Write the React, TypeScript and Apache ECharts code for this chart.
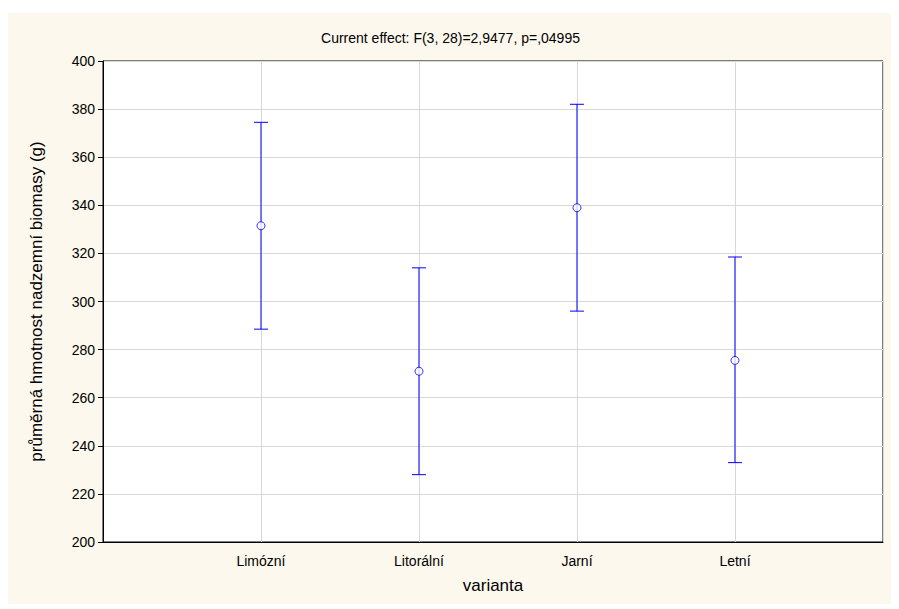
import React, { useEffect, useRef } from "react";
import * as echarts from "echarts";

const categories = ["Limózní", "Litorální", "Jarní", "Letní"];
const means = [331.5, 271, 339, 275.5];
const lower = [288.5, 228, 296, 233];
const upper = [374.5, 314, 382, 318.5];

export default function App() {
  const ref = useRef<HTMLDivElement>(null);
  useEffect(() => {
    const chart = echarts.init(ref.current!, null, { renderer: "svg" });
    const font = "Arial, 'Liberation Sans', sans-serif";
    chart.setOption({
      animation: false,
      backgroundColor: "#fdf8ee",
      title: {
        text: "Current effect: F(3, 28)=2,9477, p=,04995",
        left: "center",
        top: 13,
        textStyle: { fontFamily: font, fontSize: 14, fontWeight: "normal", color: "#000" },
      },
      grid: { left: 95, top: 48, right: 10, bottom: 62, backgroundColor: "#fff", show: true, borderColor: "#000", borderWidth: 1 },
      xAxis: {
        type: "value",
        min: 0,
        max: 4.937,
        interval: 1,
        name: "varianta",
        nameLocation: "middle",
        nameGap: 35,
        nameTextStyle: { fontFamily: font, fontSize: 17, color: "#000" },
        axisLine: { lineStyle: { color: "#000" } },
        axisTick: { show: false },
        axisLabel: {
          fontFamily: font, fontSize: 14, color: "#000", margin: 12, showMaxLabel: false,
          formatter: (v: number) => (Number.isInteger(v) && v >= 1 && v <= 4 ? categories[v - 1] : ""),
        },
        splitLine: { show: true, lineStyle: { color: "#d8d8d8" } },
      },
      yAxis: {
        type: "value",
        min: 200,
        max: 400,
        interval: 20,
        name: "průměrná hmotnost nadzemní biomasy (g)",
        nameLocation: "middle",
        nameGap: 58,
        nameTextStyle: { fontFamily: font, fontSize: 17, color: "#000" },
        axisLine: { show: true, lineStyle: { color: "#000" } },
        axisTick: { show: true, inside: false, length: 5, lineStyle: { color: "#000" } },
        axisLabel: { fontFamily: font, fontSize: 14, color: "#000", margin: 8 },
        splitLine: { show: true, lineStyle: { color: "#d8d8d8" } },
      },
      series: [
        {
          type: "custom",
          data: categories.map((_, i) => [i + 1, lower[i], upper[i]]),
          renderItem: (params: any, api: any) => {
            const x = api.value(0);
            const lo = api.coord([x, api.value(1)]);
            const hi = api.coord([x, api.value(2)]);
            const w = 7;
            const style = { stroke: "#0000ff", lineWidth: 1 };
            return {
              type: "group",
              children: [
                { type: "line", shape: { x1: lo[0], y1: lo[1], x2: hi[0], y2: hi[1] }, style },
                { type: "line", shape: { x1: lo[0] - w, y1: lo[1], x2: lo[0] + w, y2: lo[1] }, style },
                { type: "line", shape: { x1: hi[0] - w, y1: hi[1], x2: hi[0] + w, y2: hi[1] }, style },
              ],
            };
          },
        },
        {
          type: "scatter",
          data: categories.map((_, i) => [i + 1, means[i]]),
          symbol: "circle",
          symbolSize: 8,
          itemStyle: { color: "#fff", borderColor: "#0000ff", borderWidth: 1 },
          z: 5,
        },
      ],
    });
    return () => chart.dispose();
  }, []);
  return <div ref={ref} style={{ width: 885, height: 591, marginTop: 5 }} />;
}
